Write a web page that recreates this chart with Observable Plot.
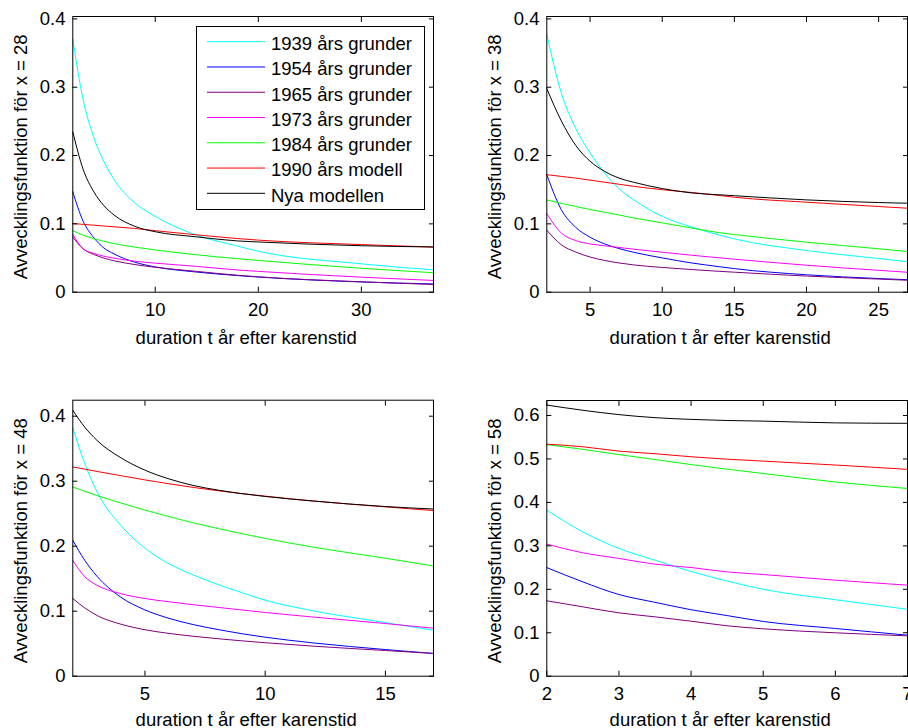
<!DOCTYPE html>
<html>
<head>
<meta charset="utf-8">
<script src="https://cdn.jsdelivr.net/npm/d3@7"></script>
<script src="https://cdn.jsdelivr.net/npm/@observablehq/plot@0.6"></script>
<style>
  html, body { margin: 0; padding: 0; background: #fff; }
  #fig { position: relative; width: 908px; height: 728px; overflow: hidden;
         font-family: "Liberation Sans", Arial, Helvetica, sans-serif; }
  .panel { position: absolute; }
</style>
</head>
<body>
<div id="fig"></div>
<script>
// ---- series ----
const seriesNames = ["1939 års grunder", "1954 års grunder", "1965 års grunder",
                     "1973 års grunder", "1984 års grunder", "1990 års modell", "Nya modellen"];
const seriesColors = ["#00ffff", "#0000ff", "#800080", "#ff00ff", "#00ff00", "#ff0000", "#000000"];
const xLabel = "duration t år efter karenstid";

// ---- x = 28 ----
const t28 = [2, 3, 4, 5, 6, 8, 10, 14, 18, 20, 30, 37];
const x28_1939 = [0.370, 0.282, 0.228, 0.192, 0.165, 0.131, 0.111, 0.0835, 0.0675, 0.060, 0.0415, 0.0327];
const x28_1954 = [0.147, 0.104, 0.0805, 0.0649, 0.056, 0.044, 0.037, 0.0295, 0.0243, 0.0222, 0.0150, 0.0121];
const x28_1965 = [0.0805, 0.0635, 0.0555, 0.050, 0.046, 0.0405, 0.0365, 0.0305, 0.0248, 0.0225, 0.0152, 0.0113];
const x28_1973 = [0.0844, 0.0634, 0.057, 0.0527, 0.0498, 0.0454, 0.0425, 0.0378, 0.0325, 0.0305, 0.022, 0.0172];
const x28_1984 = [0.090, 0.0835, 0.0785, 0.0745, 0.0712, 0.066, 0.0618, 0.0548, 0.049, 0.0465, 0.035, 0.0285];
const x28_1990 = [0.1005, 0.0993, 0.0981, 0.0969, 0.0957, 0.0933, 0.0900, 0.0840, 0.0785, 0.0762, 0.0697, 0.0660];
const x28_nya  = [0.2346, 0.180, 0.148, 0.127, 0.113, 0.0965, 0.0885, 0.081, 0.0750, 0.0735, 0.0680, 0.0662];

// ---- x = 38 ----
const t38 = [2, 3, 4, 5, 6, 7, 8, 10, 12, 14, 15, 20, 25, 27];
const x38_1939 = [0.377, 0.292, 0.240, 0.204, 0.1746, 0.1517, 0.1356, 0.111, 0.0956, 0.0834, 0.078, 0.061, 0.0493, 0.0447];
const x38_1954 = [0.172, 0.121, 0.095, 0.0805, 0.0707, 0.0639, 0.0585, 0.0502, 0.0429, 0.0372, 0.0345, 0.0255, 0.0200, 0.0183];
const x38_1965 = [0.0907, 0.0695, 0.0588, 0.0515, 0.0465, 0.0428, 0.0400, 0.0362, 0.0332, 0.0305, 0.0293, 0.0236, 0.0192, 0.0175];
const x38_1973 = [0.115, 0.0868, 0.0756, 0.0707, 0.068, 0.0655, 0.063, 0.0585, 0.0542, 0.0502, 0.0483, 0.0395, 0.032, 0.0292];
const x38_1984 = [0.135, 0.130, 0.1255, 0.121, 0.117, 0.113, 0.1088, 0.1015, 0.094, 0.087, 0.0844, 0.0732, 0.0635, 0.0596];
const x38_1990 = [0.172, 0.1695, 0.167, 0.164, 0.161, 0.158, 0.155, 0.150, 0.146, 0.1415, 0.139, 0.1317, 0.1254, 0.1229];
const x38_nya  = [0.298, 0.251, 0.215, 0.1917, 0.177, 0.167, 0.161, 0.1517, 0.1454, 0.1425, 0.1412, 0.1351, 0.1312, 0.1302];

// ---- x = 48 ----
const t48 = [2, 2.5, 3, 4, 5, 6, 7, 8, 9, 10, 12, 15, 17];
const x48_1939 = [0.382, 0.327, 0.284, 0.232, 0.197, 0.173, 0.156, 0.1415, 0.129, 0.117, 0.1005, 0.0825, 0.0705];
const x48_1954 = [0.209, 0.178, 0.154, 0.1215, 0.102, 0.089, 0.0795, 0.072, 0.0655, 0.0600, 0.0512, 0.041, 0.035];
const x48_1965 = [0.1195, 0.105, 0.0935, 0.080, 0.0715, 0.0658, 0.0615, 0.0578, 0.0545, 0.0515, 0.0462, 0.0395, 0.035];
const x48_1973 = [0.178, 0.153, 0.140, 0.127, 0.1195, 0.1145, 0.110, 0.106, 0.102, 0.098, 0.091, 0.081, 0.0738];
const x48_1984 = [0.291, 0.2845, 0.278, 0.2665, 0.2555, 0.2455, 0.236, 0.2275, 0.2195, 0.212, 0.1985, 0.1815, 0.1695];
const x48_1990 = [0.322, 0.3185, 0.315, 0.3085, 0.302, 0.296, 0.2905, 0.2855, 0.281, 0.277, 0.2695, 0.2605, 0.2548];
const x48_nya  = [0.409, 0.383, 0.363, 0.336, 0.317, 0.3035, 0.2935, 0.2865, 0.281, 0.2765, 0.2695, 0.261, 0.2572];

// ---- x = 58 ----
const t58 = [2, 2.5, 3, 3.5, 4, 4.5, 5, 6, 7];
const x58_1939 = [0.382, 0.332, 0.294, 0.267, 0.241, 0.219, 0.200, 0.176, 0.154];
const x58_1954 = [0.250, 0.217, 0.188, 0.170, 0.153, 0.1395, 0.126, 0.1098, 0.0944];
const x58_1965 = [0.1735, 0.1596, 0.1458, 0.1366, 0.1266, 0.116, 0.109, 0.0999, 0.0929];
const x58_1973 = [0.304, 0.284, 0.271, 0.2578, 0.2501, 0.240, 0.234, 0.221, 0.2095];
const x58_1984 = [0.533, 0.522, 0.510, 0.4987, 0.487, 0.4764, 0.4665, 0.447, 0.432];
const x58_1990 = [0.534, 0.528, 0.518, 0.512, 0.505, 0.4994, 0.495, 0.486, 0.476];
const x58_nya  = [0.624, 0.612, 0.602, 0.595, 0.591, 0.5885, 0.587, 0.583, 0.582];

// ---- axes ticks ----
const xTicks28 = [10, 20, 30];
const xTicks38 = [5, 10, 15, 20, 25];
const xTicks48 = [5, 10, 15];
const xTicks58 = [2, 3, 4, 5, 6, 7];
const yTicks04 = [0, 0.1, 0.2, 0.3, 0.4];
const yTicks06 = [0, 0.1, 0.2, 0.3, 0.4, 0.5, 0.6];

const FONT = '"Liberation Sans", Arial, Helvetica, sans-serif';
const FS = "18.5px";
const fig = document.getElementById("fig");

function panel(cfg) {
  const data = [];
  seriesNames.forEach((s, i) => cfg.vals[i].forEach((v, j) => data.push({t: cfg.t[j], v, s})));
  const fmt = d => String(d);
  const chart = Plot.plot({
    width: 454, height: 364,
    marginLeft: cfg.ml, marginRight: cfg.mr, marginTop: cfg.mt, marginBottom: cfg.mb,
    x: {domain: cfg.xDomain},
    y: {domain: cfg.yDomain},
    color: {domain: seriesNames, range: seriesColors},
    style: {fontFamily: FONT, fontSize: FS, background: "transparent", color: "black"},
    marks: [
      Plot.line(data, {x: "t", y: "v", z: "s", stroke: "s", strokeWidth: 1, curve: "monotone-x"}),
      Plot.frame({stroke: "black", strokeWidth: 1}),
      Plot.axisX(cfg.xTicks, {anchor: "bottom", tickSize: -5, tickPadding: 15.3, tickFormat: fmt, label: null}),
      Plot.axisX(cfg.xTicks, {anchor: "top", tickSize: -5, tickFormat: () => "", label: null}),
      Plot.axisY(cfg.yTicks, {anchor: "left", tickSize: -5, tickPadding: 12.3, tickFormat: fmt, label: null}),
      Plot.axisY(cfg.yTicks, {anchor: "right", tickSize: -5, tickFormat: () => "", label: null}),
      Plot.text([xLabel], {frameAnchor: "bottom", dy: cfg.xlOff, dx: -7, lineAnchor: "bottom", text: d => d}),
      Plot.text([cfg.ylabel], {frameAnchor: "left", rotate: -90, dx: -59, dy: 2.5,
        textAnchor: "middle", lineAnchor: "top", text: d => d})
    ]
  });
  chart.classList.add("panel");
  chart.style.left = cfg.left + "px";
  chart.style.top = cfg.top + "px";
  fig.appendChild(chart);
}

panel({left: 0, top: 0, ml: 72.3, mr: 21, mt: 16, mb: 72.3, xlOff: 51.8,
  t: t28, vals: [x28_1939, x28_1954, x28_1965, x28_1973, x28_1984, x28_1990, x28_nya],
  xDomain: [2, 37], yDomain: [0, 0.4035], xTicks: xTicks28, yTicks: yTicks04,
  ylabel: "Avvecklingsfunktion för x = 28"});
panel({left: 454, top: 0, ml: 92.3, mr: 1, mt: 16, mb: 72.3, xlOff: 51.8,
  t: t38, vals: [x38_1939, x38_1954, x38_1965, x38_1973, x38_1984, x38_1990, x38_nya],
  xDomain: [2, 27], yDomain: [0, 0.4035], xTicks: xTicks38, yTicks: yTicks04,
  ylabel: "Avvecklingsfunktion för x = 38"});
panel({left: 0, top: 364, ml: 72.3, mr: 21, mt: 35.7, mb: 52.3, xlOff: 50.1,
  t: t48, vals: [x48_1939, x48_1954, x48_1965, x48_1973, x48_1984, x48_1990, x48_nya],
  xDomain: [2, 17], yDomain: [0, 0.4246], xTicks: xTicks48, yTicks: yTicks04,
  ylabel: "Avvecklingsfunktion för x = 48"});
panel({left: 454, top: 364, ml: 92.3, mr: 1, mt: 36, mb: 52.3, xlOff: 50.1,
  t: t58, vals: [x58_1939, x58_1954, x58_1965, x58_1973, x58_1984, x58_1990, x58_nya],
  xDomain: [2, 7], yDomain: [0, 0.6345], xTicks: xTicks58, yTicks: yTicks06,
  ylabel: "Avvecklingsfunktion för x = 58"});

// ---- legend (inside the first panel) ----
const lg = d3.select(fig).append("svg")
  .attr("class", "panel")
  .style("left", "196px").style("top", "26px")
  .attr("width", 230).attr("height", 185)
  .style("font-family", FONT).style("font-size", FS);
lg.append("rect").attr("x", 0.5).attr("y", 0.5).attr("width", 228).attr("height", 183)
  .attr("fill", "white").attr("stroke", "black");
const row = lg.selectAll("g.entry").data(seriesNames).join("g")
  .attr("class", "entry")
  .attr("transform", (d, i) => `translate(0,${15.7 + i * 25.27})`);
row.append("line").attr("x1", 11).attr("x2", 69).attr("y1", 0).attr("y2", 0)
  .attr("stroke", d => seriesColors[seriesNames.indexOf(d)]).attr("stroke-width", 1);
row.append("text").attr("x", 75).attr("y", 8.3).attr("fill", "black").text(d => d);
</script>
</body>
</html>
